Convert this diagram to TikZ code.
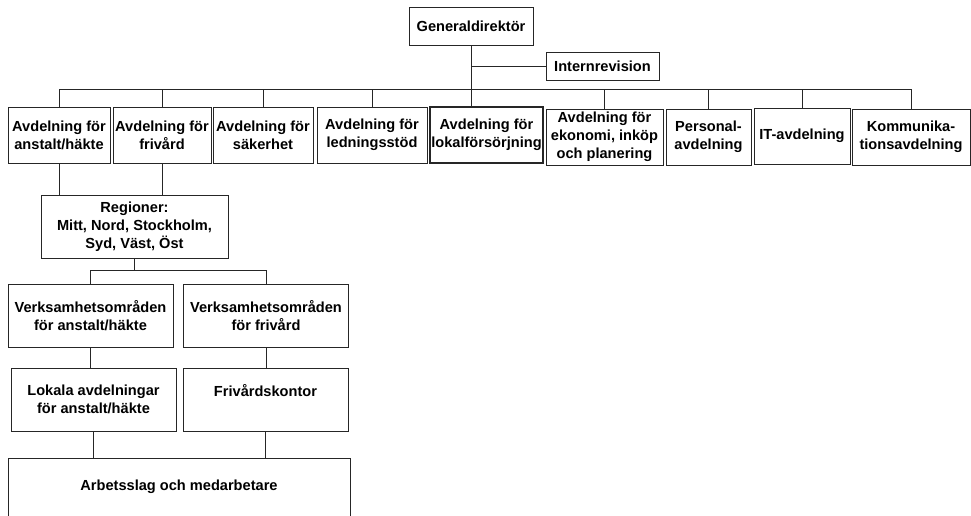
\documentclass[tikz,border=0pt]{standalone}
\usepackage{fontspec}
\setmainfont{Liberation Sans}
\usetikzlibrary{positioning}

\begin{document}
\begin{tikzpicture}[
  x=1pt, y=-1pt,
  font=\fontsize{14.6}{18}\selectfont\bfseries,
  box/.style={draw=black!85, line width=1pt, align=center, inner sep=0pt, minimum height=56pt, fill=white},
  wide/.style={box, minimum width=165pt, minimum height=63pt},
  link/.style={draw=black!85, line width=1pt}
]
\useasboundingbox (0,0) rectangle (971,515);

\node[box, minimum width=124pt, minimum height=38pt] (gd) at (471,26) {Generaldirektör};
\node[box, minimum width=113pt, minimum height=28pt] (intrev) at (602.5,66) {Internrevision};

\node[box, minimum width=102pt] (anst) at (59,135) {Avdelning för\\anstalt/häkte};
\node[box, minimum width=98pt] (friv) at (162,135) {Avdelning för\\frivård};
\node[box, minimum width=100pt] (sak) at (263,135) {Avdelning för\\säkerhet};
\node[box, minimum width=110pt] (led) at (372,135) {Avdelning för\\ledningsstöd};
\node[box, minimum width=113pt, line width=2pt] (lokal) at (486.5,135) {Avdelning för\\lokalförsörjning};
\node[box, minimum width=117pt] (ekon) at (604.5,137) {Avdelning för\\ekonomi, inköp\\och planering};
\node[box, minimum width=85pt] (pers) at (708.5,137) {Personal-\\avdelning};
\node[box, minimum width=96pt] (it) at (802,136) {IT-avdelning};
\node[box, minimum width=118pt] (komm) at (911,137) {Kommunika-\\tionsavdelning};

\node[box, minimum width=187pt, minimum height=63pt] (reg) at (134.5,226.5)
  {Regioner:\\Mitt, Nord, Stockholm,\\Syd, Väst, Öst};

\node[wide] (vanst) at (90.5,315.5) {Verksamhetsområden\\för anstalt/häkte};
\node[wide] (vfriv) at (266,315.5) {Verksamhetsområden\\för frivård};
\node[wide] (lokavd) at (93.5,399.5) {Lokala avdelningar\\för anstalt/häkte};
\node[wide] (fkont) at (265.5,399.5) {Frivårdskontor\\~};
\node[box, minimum width=342pt, minimum height=58pt] (arb) at (179,487) {Arbetsslag och medarbetare};

% top level lines
\coordinate (bus) at (0,89);
\draw[link] (gd.south) -- (gd.south |- lokal.north);
\draw[link] (gd.south |- intrev.west) -- (intrev.west);
\draw[link] (anst.north |- bus) -- (komm.north |- bus);
\foreach \n in {anst,friv,sak,led,ekon,pers,it,komm}
  \draw[link] (\n.north) -- (\n.north |- bus);

% regions
\draw[link] (anst.south) -- (anst.south |- reg.north);
\draw[link] (friv.south) -- (friv.south |- reg.north);
\coordinate (rbus) at (0,270);
\draw[link] (reg.south) -- (reg.south |- rbus);
\draw[link] (vanst.north |- rbus) -- (vfriv.north |- rbus);
\draw[link] (vanst.north) -- (vanst.north |- rbus);
\draw[link] (vfriv.north) -- (vfriv.north |- rbus);

% local units
\draw[link] (vanst.south) -- (vanst.south |- lokavd.north);
\draw[link] (vfriv.south) -- (vfriv.south |- fkont.north);
\draw[link] (lokavd.south) -- (lokavd.south |- arb.north);
\draw[link] (fkont.south) -- (fkont.south |- arb.north);

\end{tikzpicture}
\end{document}
